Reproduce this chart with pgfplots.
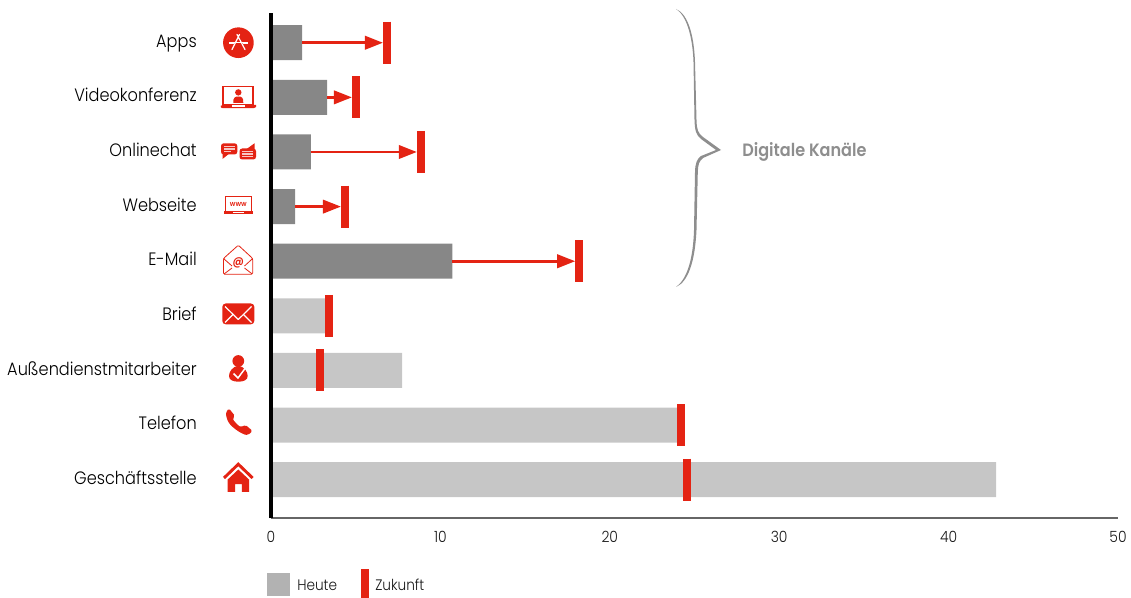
\documentclass[border=0pt]{standalone}
\usepackage{pgfplots}
\pgfplotsset{compat=1.18}
\usepackage{pgfplotstable}
\usepackage{fontspec}
\usetikzlibrary{arrows.meta}
\setmainfont{Poppins}[UprightFont=* Light,BoldFont=* SemiBold,FakeStretch=0.9]
\definecolor{dunkel}{HTML}{878787}
\definecolor{hell}{HTML}{C6C6C6}
\definecolor{rot}{HTML}{E42313}
\definecolor{klammer}{HTML}{8E8E8E}
\definecolor{legfl}{HTML}{B2B2B2}

% row, share today, share in future
\pgfplotstableread{
y heute zukunft
8 1.83 6.85
7 3.31 5.02
6 2.36 8.85
5 1.42 4.37
4 10.70 18.20
}\digital
\pgfplotstableread{
y heute zukunft
3 3.25 3.43
2 7.74 2.89
1 24.00 24.20
0 42.80 24.56
}\klassisch
% arrows: start, row, length up to the left edge of the future mark
\pgfplotstableread{
x y u
1.83 8 4.78
3.31 7 1.47
2.36 6 6.25
1.42 5 2.71
10.70 4 7.26
}\pfeile

\begin{document}
\begin{tikzpicture}
\path[use as bounding box] (0,0) rectangle (848.25pt,-448.5pt);
\begin{axis}[
  at={(203.25pt,-388.5pt)}, anchor=south west,
  scale only axis, width=635.25pt, height=378.75pt,
  xmin=0, xmax=50, ymin=-0.7004, ymax=8.5446,
  axis lines=left, axis on top,
  axis line style={-},
  x axis line style={draw=black!60, line width=1.2pt},
  y axis line style={draw=black, line width=3pt},
  major tick length=0pt,
  xtick={0,10,20,30,40,50},
  ytick={0,...,8},
  yticklabels={Geschäftsstelle,Telefon,Außendienstmitarbeiter,Brief,E-Mail,Webseite,Onlinechat,Videokonferenz,Apps},
  y tick label style={font=\fontsize{13.45pt}{15pt}\selectfont, anchor=base east, inner sep=0pt, xshift=-55.5pt, yshift=-3.4pt, color=black},
  x tick label style={font=\fontsize{11.6pt}{13pt}\selectfont, inner sep=0pt, yshift=-9.5pt, color=black!90},
  /pgf/number format/assume math mode=true,
  clip=false,
]
\addplot[xbar, bar shift=0pt, bar width=26.25pt, fill=dunkel, draw=none] table[x=heute,y=y] {\digital};
\addplot[xbar, bar shift=0pt, bar width=26.25pt, fill=hell, draw=none] table[x=heute,y=y] {\klassisch};
\addplot[draw=rot, line width=2pt, -{Triangle[length=13.5pt,width=10pt]},
  quiver={u=\thisrow{u}, v=0}] table[x=x,y=y] {\pfeile};
\addplot[only marks, mark=|, mark size=15.75pt, mark options={draw=rot, line width=6pt}] table[x=zukunft,y=y] {\digital};
\addplot[only marks, mark=|, mark size=15.75pt, mark options={draw=rot, line width=6pt}] table[x=zukunft,y=y] {\klassisch};
\end{axis}

\begin{scope}[x=0.75pt,y=-0.75pt]
% curly bracket around the digital channels
\fill[klammer] (676,9) .. controls (688,14) and (694,35) .. (695,62)
  -- (696.5,120) .. controls (696.8,130) and (698,133) .. (703,137)
  -- (721,150) -- (703,158) .. controls (699,161) and (698,165) .. (697.8,172)
  -- (696.5,230) .. controls (695,262) and (688,282) .. (676,287)
  .. controls (686,280) and (693,262) .. (694,230)
  -- (695,172) .. controls (695.2,163) and (697,159) .. (701,156)
  -- (716,150) -- (701,139) .. controls (696,135) and (694.8,130) .. (694.5,120)
  -- (693.5,62) .. controls (692.5,35) and (686,15) .. (676,9) -- cycle;
\node[anchor=west, inner sep=0pt, text=klammer, font=\fontsize{13.4pt}{15pt}\bfseries] at (742,152) {Digitale Kanäle};

% legend
\fill[legfl] (267,573) rectangle (290,596);
\node[anchor=west, inner sep=0pt, font=\fontsize{11.4pt}{13pt}\selectfont, text=black!90] at (297,585) {Heute};
\fill[rot] (361,569) rectangle (369,598);
\node[anchor=west, inner sep=0pt, font=\fontsize{11.4pt}{13pt}\selectfont, text=black!90] at (375,585) {Zukunft};

% channel pictograms
% app store
\fill[rot] (238.4,42.7) circle (11.5pt);
\draw[white, line width=0.9pt, line cap=round] (232,49.5) -- (239.5,34.5) (237,34.5) -- (245,49.5);
\draw[white, line width=1.5pt] (229,42.7) -- (233.5,42.7) (243,42.7) -- (248,42.7);
\draw[white, line width=0.7pt] (233.5,42.7) -- (243,42.7);
% video conference
\draw[rot, line width=1pt] (223,86.5) rectangle (253,105);
\fill[rot] (220.7,105) -- (256,105) -- (256,107) [rounded corners=1pt] -- (255,108.2) -- (221.5,108.2) -- (220.7,107) -- cycle;
\fill[white] (232,105.3) rectangle (244.5,106.7);
\fill[rot] (238.3,92.4) circle (2.4pt);
\fill[rot] (233.3,103) .. controls (233,97.5) and (235,96.5) .. (238.3,96.5)
  .. controls (241.6,96.5) and (243.6,97.5) .. (243.3,103) -- cycle;
% online chat
\fill[rot, rounded corners=2pt] (221,143.3) rectangle (237.3,154.5);
\fill[rot] (222.5,152) -- (222.5,159) -- (230,153) -- cycle;
\draw[white, opacity=.75, line width=0.8pt] (224,146.5) -- (234.5,146.5) (224,149) -- (234.5,149) (224,151.5) -- (231,151.5);
\fill[rot, rounded corners=2pt] (239.5,148.5) rectangle (256,159.5);
\fill[rot] (246,149.5) -- (254.5,143.3) -- (254.5,151) -- cycle;
\draw[white, opacity=.75, line width=0.8pt] (242,151.8) -- (253,151.8) (242,154) -- (253,154) (242,156.3) -- (253,156.3);
% website
\draw[rot, line width=0.7pt] (225.8,196.3) rectangle (251,211.5);
\fill[rot] (224,211.5) rectangle (252.7,214.3);
\fill[white] (233,212) rectangle (243.5,213.2);
\node[text=rot, inner sep=0pt, font=\fontsize{5.5pt}{6pt}\bfseries] at (238.3,204.5) {www};
% e-mail
\draw[rot, line width=0.6pt, line join=round, rounded corners=1pt] (223.5,258.5) -- (238.3,245.2) -- (252.7,258.5) -- (252.7,274.3) -- (223.5,274.3) -- cycle;
\draw[rot, line width=0.6pt] (223.5,258.5) -- (232,266) (252.7,258.5) -- (244.5,266)
  (224,274) -- (232,268) (252.2,274) -- (244.5,268);
\node[text=rot, inner sep=0pt, font=\fontsize{9pt}{10pt}\bfseries] at (238.3,263.3) {@};
% letter
\fill[rot, rounded corners=2.5pt] (222.3,303.5) rectangle (254.3,324.3);
\draw[white, line width=0.9pt, line join=round] (225,306.5) -- (238.3,319.5) -- (251.5,306.5)
  (225,322.5) -- (233,314.5) (251.5,322.5) -- (243.5,314.5);
% field sales person
\fill[rot] (238.3,361) circle (4.4pt);
\fill[rot] (238.3,365.5) .. controls (232,367) and (229,372) .. (229,376)
  .. controls (229,380) and (233,381.7) .. (238.3,381.7)
  .. controls (243.6,381.7) and (247.7,380) .. (247.7,376)
  .. controls (247.7,372) and (244.6,367) .. (238.3,365.5) -- cycle;
\draw[white, line width=1.1pt] (233.5,373.5) -- (238,378) -- (245,368.5);
% telephone
\fill[rot, rounded corners=1.2pt] (229,408.5) -- (235,416) -- (232.5,418.5)
  .. controls (234,421) and (238,425.5) .. (241,427) -- (245.5,425) -- (252.7,431) -- (248,435)
  .. controls (242,434.5) and (233,428) .. (229,423)
  .. controls (227,419.5) and (226,415.5) .. (226,412) -- cycle;
% branch office
\draw[rot, line width=2.2pt, miter limit=4] (224,478) -- (238.3,464.2) -- (252.6,478);
\fill[rot] (238.3,469.5) -- (249,479.5) -- (249,491.8) -- (241.8,491.8) -- (241.8,484) -- (235,484) -- (235,491.8) -- (227.7,491.8) -- (227.7,479.5) -- cycle;
\end{scope}
\end{tikzpicture}
\end{document}
